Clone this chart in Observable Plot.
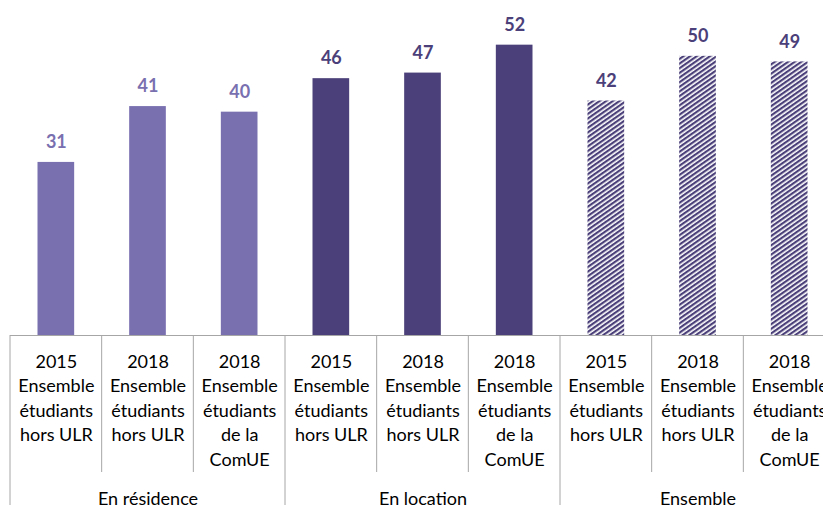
<!DOCTYPE html>
<html><head><meta charset="utf-8">
<script src="https://cdn.jsdelivr.net/npm/d3@7"></script>
<script src="https://cdn.jsdelivr.net/npm/@observablehq/plot@0.6"></script>
<style>body{margin:0;overflow:hidden;background:#fff}</style>
</head><body><div id="chart"></div>
<script>
const groups = ["En résidence", "En location", "Ensemble"];
const categories = [
  "2015\nEnsemble\nétudiants\nhors ULR",
  "2018\nEnsemble\nétudiants\nhors ULR",
  "2018\nEnsemble\nétudiants\nde la\nComUE"
];
const values = [31, 41, 40, 46, 47, 52, 42, 50, 49];
const colorLight = "#7970b0";
const colorDark = "#4b4079";

const rows = values.map((v, i) => ({
  i, value: v, group: Math.floor(i / 3), label: categories[i % 3]
}));
const groupRows = groups.map((g, k) => ({k, name: g}));
const fills = [colorLight, colorDark, "url(#hatch)"];
const textFills = [colorLight, colorDark, colorDark];

const defs = () => {
  const svg = d3.create("svg:defs");
  const p = svg.append("pattern").attr("id", "hatch").attr("patternUnits", "userSpaceOnUse")
    .attr("width", 4).attr("height", 3.8).attr("patternTransform", "rotate(-35)");
  p.append("rect").attr("width", 4).attr("height", 3.8).attr("fill", "#fff");
  p.append("rect").attr("width", 4).attr("height", 2.2).attr("fill", colorDark);
  return svg.node();
};

const separators = (index, scales, values, dimensions) => {
  const g = d3.create("svg:g").attr("stroke", "#a6a6a6");
  const y0 = scales.y(0);
  const bounds = d3.range(rows.length + 1);
  for (const k of bounds) {
    const x = scales.x(k);
    g.append("line").attr("x1", x).attr("x2", x).attr("y1", y0)
      .attr("y2", k % 3 === 0 ? dimensions.height : y0 + 137);
  }
  return g.node();
};

const marks = [defs];
for (let gi = 0; gi < 3; gi++) {
  const sub = rows.filter(d => d.group === gi);
  marks.push(Plot.rectY(sub, {x1: d => d.i + 0.3, x2: d => d.i + 0.7, y: "value", fill: fills[gi]}));
  marks.push(Plot.text(sub, {x: d => d.i + 0.5, y: "value", text: d => String(d.value),
    dy: -20, fontWeight: "bold", fontSize: 18, fill: textFills[gi]}));
}
marks.push(Plot.ruleY([0], {stroke: "#a6a6a6"}));
marks.push(separators);
marks.push(Plot.text(rows, {x: d => d.i + 0.5, y: () => 0, text: "label", lineAnchor: "top",
  dy: 15, fontSize: 18, lineHeight: 1.36, fill: "#000"}));
marks.push(Plot.text(groupRows, {x: d => d.k * 3 + 1.5, y: () => 0, text: "name", lineAnchor: "top",
  dy: 157, fontSize: 18, fill: "#000"}));

const chart = Plot.plot({
  width: 823, height: 505,
  marginTop: 0, marginBottom: 170, marginLeft: 10, marginRight: 0,
  style: {fontFamily: "Lato", background: "#fff"},
  x: {type: "linear", domain: [0, 9], range: [10, 835], axis: null},
  y: {domain: [0, 60], axis: null},
  marks
});
document.getElementById("chart").appendChild(chart);
</script>
</body></html>
